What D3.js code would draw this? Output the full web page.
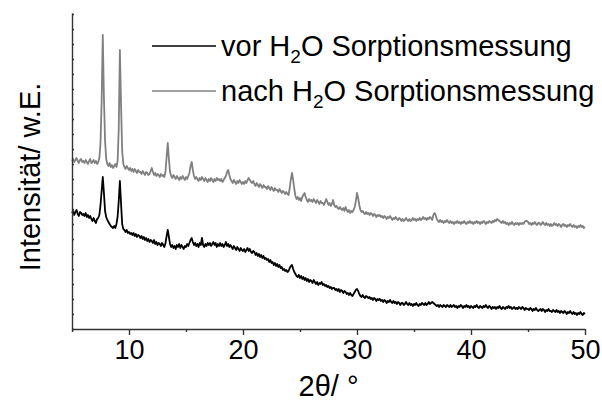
<!DOCTYPE html>
<html>
<head>
<meta charset="utf-8">
<script src="https://cdn.jsdelivr.net/npm/d3@7/dist/d3.min.js"></script>
<style>
  html, body { margin: 0; padding: 0; background: #fff; }
  svg { display: block; }
  text { font-family: "Liberation Sans", Arial, sans-serif; fill: #000; }
</style>
</head>
<body>
<svg id="chart" width="602" height="412"></svg>
<script>
// Powder XRD patterns, 2θ scanned from 5° to 50° in 0.1° steps (intensity in arbitrary units)
const twoThetaStart = 5;
const twoThetaStep = 0.1;

// before water sorption
const vorH2O = [
  116,118,114,117,119,115,113,117,116,114,
  115,113,116,112,114,111,113,110,108,111,
  108,106,110,111,114,124,138,152,136,118,
  112,109,107,105,103,102,101,103,101,105,
  112,128,148,126,105,100,99,97,99,96,
  97,95,96,94,96,93,95,92,94,93,
  91,93,90,92,89,91,88,90,87,89,
  88,86,89,85,87,84,86,85,83,86,
  84,82,86,93,99,92,85,82,84,81,
  83,80,84,82,85,81,84,82,80,83,
  82,85,83,86,89,91,87,84,86,83,
  85,82,86,84,91,84,82,85,83,86,
  84,86,83,85,87,84,86,82,85,83,
  86,83,85,82,84,87,83,85,82,84,
  82,80,83,81,79,82,80,78,81,79,
  78,80,77,79,81,78,80,77,76,78,
  77,74,76,73,75,72,74,71,73,70,
  71,69,70,67,69,66,67,64,66,63,
  65,62,64,61,62,59,60,58,59,57,
  58,61,63,64,60,57,55,53,52,54,
  51,53,50,52,49,51,48,50,47,49,
  48,46,49,47,45,47,44,46,45,47,
  44,45,43,44,42,43,41,42,40,41,
  41,39,40,38,40,37,39,38,36,38,
  37,35,36,34,36,34,33,35,37,39,
  40,38,35,33,32,34,32,31,33,32,
  31,32,30,31,29,31,30,28,30,29,
  30,28,29,27,29,28,26,28,27,29,
  27,26,28,26,27,25,27,26,24,26,
  26,24,25,27,25,24,26,24,25,23,
  25,24,26,24,23,25,24,26,25,24,
  26,24,25,27,25,26,27,26,25,24,
  23,24,22,24,23,22,24,23,22,24,
  23,22,24,22,23,24,22,23,21,23,
  22,24,23,21,23,22,24,22,23,21,
  23,22,21,23,22,24,22,21,23,22,
  21,23,22,24,22,21,23,22,20,22,
  21,22,20,22,21,23,21,20,22,21,
  20,22,21,23,21,22,20,21,22,20,
  21,20,22,21,20,22,21,19,21,20,
  20,19,21,20,18,20,19,21,19,18,
  19,20,18,20,19,17,19,18,20,18,
  18,17,19,18,17,19,17,18,16,18,
  17,16,18,17,15,17,16,18,16,15,
  17,15,16,14,16,15,17,15,14,16,
  15
];

// after water sorption
const nachH2O = [
  168,170,167,169,171,168,166,169,170,167,
  168,166,169,167,165,168,170,166,167,169,
  166,168,165,167,171,186,228,294,232,188,
  170,165,163,166,162,164,161,163,165,162,
  168,200,279,225,178,165,162,160,163,161,
  159,161,158,160,157,160,158,156,159,157,
  157,155,158,156,154,157,156,154,155,158,
  161,157,154,156,153,155,154,152,155,153,
  154,152,157,172,186,170,157,153,151,154,
  152,150,153,151,149,152,150,153,151,149,
  152,150,153,156,163,167,159,153,150,152,
  150,148,151,149,152,150,148,151,149,147,
  150,148,151,149,147,150,148,151,149,150,
  148,150,147,149,151,153,157,159,154,150,
  148,146,149,147,145,148,146,149,147,145,
  147,145,148,146,149,151,149,147,146,148,
  145,143,146,144,142,145,143,141,144,142,
  142,140,143,141,139,142,140,138,141,139,
  139,137,140,138,136,138,137,135,137,135,
  134,141,150,156,149,140,133,130,132,129,
  131,128,132,134,136,132,129,127,130,128,
  129,127,130,128,126,129,127,125,128,126,
  126,124,127,130,127,124,126,123,125,129,
  124,122,123,121,120,122,120,119,121,118,
  122,119,117,119,116,118,117,119,122,128,
  136,131,124,119,117,118,116,115,117,115,
  116,114,116,115,113,115,114,112,114,113,
  114,112,113,111,113,112,110,112,111,113,
  111,109,111,110,112,110,109,111,110,108,
  110,108,109,111,109,108,110,108,109,111,
  109,110,108,110,109,111,109,110,112,110,
  111,109,111,110,112,111,109,114,116,114,
  110,108,107,109,107,108,106,108,107,109,
  107,106,108,106,107,105,107,106,108,106,
  107,105,107,106,108,106,105,107,106,108,
  106,107,105,107,106,108,106,107,105,107,
  106,108,107,105,107,106,108,107,106,108,
  107,109,108,110,109,108,107,106,108,106,
  107,105,106,104,106,105,107,105,104,106,
  105,106,104,106,105,106,105,107,108,108,
  107,105,106,104,106,105,107,105,104,106,
  106,104,105,107,105,104,106,104,105,103,
  105,103,104,106,104,105,103,105,104,102,
  104,105,103,104,102,104,103,105,103,102,
  104,102,103,101,103,102,104,102,103,101,
  102
];

const xMajorTicks = [10, 20, 30, 40, 50];
const xMinorTicks = [5, 15, 25, 35, 45];
const seriesLabels = ["vor", "nach"];
const seriesColors = ["#000000", "#808080"];

const svg = d3.select("#chart");
const margin = { left: 72, right: 17, top: 13, bottom: 83 };
const W = 602, H = 412;

const x = d3.scaleLinear().domain([5, 50]).range([margin.left, W - margin.right]);
const y = d3.scaleLinear().domain([0, 316]).range([H - margin.bottom, margin.top]);

const angleAt = i => twoThetaStart + i * twoThetaStep;

const line = d3.line()
  .x((d, i) => x(angleAt(i)))
  .y(d => y(d));

// patterns
[nachH2O, vorH2O].forEach((series, k) => {
  svg.append("path")
    .datum(series)
    .attr("fill", "none")
    .attr("stroke", k === 0 ? seriesColors[1] : seriesColors[0])
    .attr("stroke-width", 1.8)
    .attr("stroke-linejoin", "round")
    .attr("d", line);
});

// x axis: labelled major ticks and short minor ticks
const xAxis = svg.append("g")
  .attr("transform", `translate(0,${H - margin.bottom})`)
  .call(d3.axisBottom(x).tickValues(xMajorTicks).tickSize(6).tickPadding(5).tickSizeOuter(0));
xAxis.select(".domain").attr("stroke", "#333").attr("stroke-width", 1.4);
xAxis.selectAll(".tick line").attr("stroke", "#333").attr("stroke-width", 1.4);
xAxis.selectAll(".tick text")
  .attr("font-family", "Liberation Sans, Arial, sans-serif")
  .attr("font-size", 27)
  .attr("fill", "#000");

const xMinor = svg.append("g")
  .attr("transform", `translate(0,${H - margin.bottom})`)
  .call(d3.axisBottom(x).tickValues(xMinorTicks).tickSize(3).tickFormat(""));
xMinor.select(".domain").remove();
xMinor.selectAll(".tick line").attr("stroke", "#333").attr("stroke-width", 1.4);

// y axis: unlabelled inner ticks
const yAxis = svg.append("g")
  .attr("transform", `translate(${margin.left},0)`)
  .call(d3.axisLeft(y).tickValues(d3.range(0, 317, 15)).tickSize(-2).tickFormat("").tickSizeOuter(0));
yAxis.select(".domain").attr("stroke", "#333").attr("stroke-width", 1.4);
yAxis.selectAll(".tick line").attr("stroke", "#333").attr("stroke-width", 1.4);

// axis titles
svg.append("text")
  .attr("x", (x(5) + x(50)) / 2)
  .attr("y", 396)
  .attr("text-anchor", "middle")
  .attr("font-size", 29)
  .text("2θ/ °");

svg.append("text")
  .attr("transform", "translate(40,177) rotate(-90)")
  .attr("text-anchor", "middle")
  .attr("font-size", 29)
  .text("Intensität/ w.E.");

// legend
const legend = svg.append("g");
seriesLabels.forEach((lab, i) => {
  const ly = 46 + i * 45;
  legend.append("line")
    .attr("x1", 152).attr("x2", 216)
    .attr("y1", ly).attr("y2", ly)
    .attr("stroke", seriesColors[i])
    .attr("stroke-width", 1.6);
  const t = legend.append("text")
    .attr("x", 221)
    .attr("y", ly + 10)
    .attr("font-size", 29);
  t.append("tspan").text(lab + " H");
  t.append("tspan").attr("font-size", 19).attr("dy", 7).text("2");
  t.append("tspan").attr("dy", -7).text("O Sorptionsmessung");
});
</script>
</body>
</html>
